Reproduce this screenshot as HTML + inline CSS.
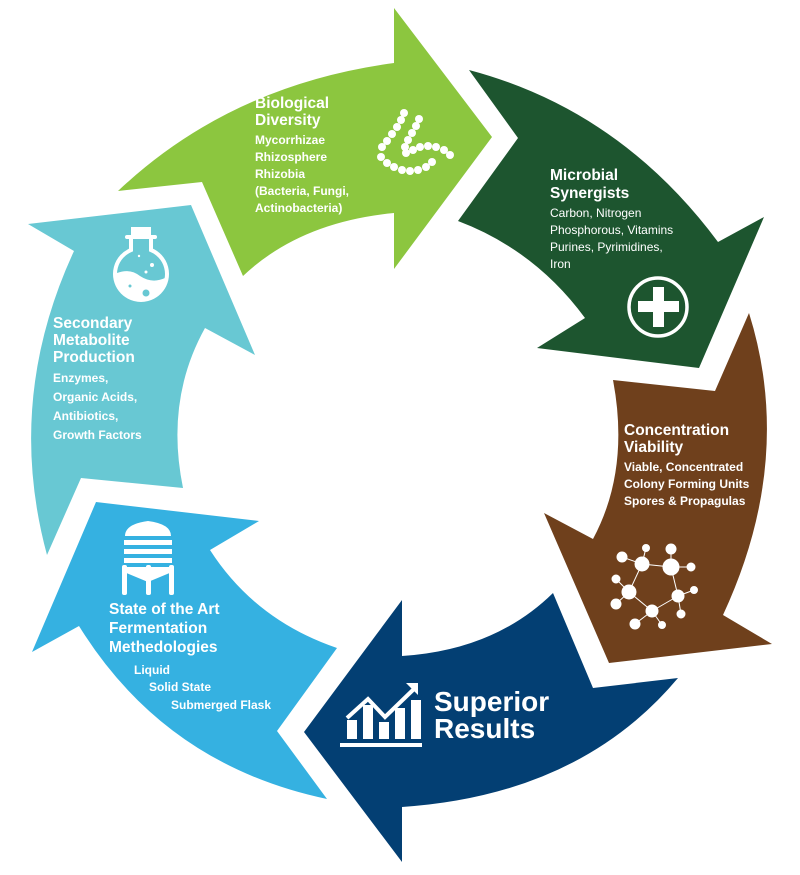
<!DOCTYPE html>
<html><head><meta charset="utf-8"><style>
html,body{margin:0;padding:0;background:#fff;width:800px;height:875px;overflow:hidden}
svg text{font-family:"Liberation Sans",Arial,sans-serif;fill:#fff;font-weight:bold}
.h{font-size:15.5px}
.b{font-size:12px}
</style></head><body>
<svg width="800" height="875" viewBox="0 0 800 875" xmlns="http://www.w3.org/2000/svg">
<path fill="#8cc63f" d="M118,191 Q230,85 394,63 L394,8 L492,137 L394,269 L394,213 Q300,222 243,276 L202,182 Z"/>
<path fill="#1d552f" d="M469,70 Q620,110 718,242 L764,217 L699,368 L537,348 L585,318 Q535,250 458,221 L518,138 Z"/>
<path fill="#6f401c" d="M749,313 Q795,460 723,615 L772,644 L609,663 L544,513 L593,539 Q630,470 613,380 L715,391 Z"/>
<path fill="#033f73" d="M678,678 Q580,795 402,807 L402,862 L304,732 L402,600 L402,656 Q495,650 553,593 L593,688 Z"/>
<path fill="#35b1e1" d="M327,799 Q165,765 79,626 L32,652 L96,502 L259,521 L210,550 Q255,620 337,648 L277,731 Z"/>
<path fill="#68c8d3" d="M47,555 Q5,400 74,251 L28,224 L191,205 L255,355 L205,328 Q165,400 183,488 L81,478 Z"/>

<text class="h" x="255" y="108">Biological</text>
<text class="h" x="255" y="125">Diversity</text>
<text class="b" x="255" y="144">Mycorrhizae</text>
<text class="b" x="255" y="161">Rhizosphere</text>
<text class="b" x="255" y="178">Rhizobia</text>
<text class="b" x="255" y="195">(Bacteria, Fungi,</text>
<text class="b" x="255" y="212">Actinobacteria)</text>
<g fill="#fff">
<circle cx="404" cy="113" r="4"/><circle cx="401" cy="120" r="4"/><circle cx="397" cy="127" r="4"/><circle cx="392" cy="134" r="4"/><circle cx="387" cy="141" r="4"/><circle cx="382" cy="147" r="4"/>
<circle cx="419" cy="119" r="4"/><circle cx="416" cy="126" r="4"/><circle cx="412" cy="133" r="4"/><circle cx="408" cy="140" r="4"/><circle cx="405" cy="147" r="4"/>
<circle cx="406" cy="153" r="4"/><circle cx="413" cy="150" r="4"/><circle cx="420" cy="147" r="4"/><circle cx="428" cy="146" r="4"/><circle cx="436" cy="147" r="4"/><circle cx="444" cy="150" r="4"/><circle cx="450" cy="155" r="4"/>
<circle cx="381" cy="157" r="4"/><circle cx="387" cy="163" r="4"/><circle cx="394" cy="167" r="4"/><circle cx="402" cy="170" r="4"/><circle cx="410" cy="171" r="4"/><circle cx="418" cy="170" r="4"/><circle cx="426" cy="167" r="4"/><circle cx="432" cy="162" r="4"/>
</g>

<text class="h" x="550" y="180">Microbial</text>
<text class="h" x="550" y="198">Synergists</text>
<text class="b" x="550" y="217" style="font-weight:normal">Carbon, Nitrogen</text>
<text class="b" x="550" y="234" style="font-weight:normal">Phosphorous, Vitamins</text>
<text class="b" x="550" y="251" style="font-weight:normal">Purines, Pyrimidines,</text>
<text class="b" x="550" y="268" style="font-weight:normal">Iron</text>
<circle cx="658" cy="307" r="29" fill="none" stroke="#fff" stroke-width="3.5"/>
<rect x="653" y="287" width="11" height="40" fill="#fff"/>
<rect x="638" y="301" width="41" height="11" fill="#fff"/>

<text class="h" x="624" y="435">Concentration</text>
<text class="h" x="624" y="452">Viability</text>
<text class="b" x="624" y="471">Viable, Concentrated</text>
<text class="b" x="624" y="488">Colony Forming Units</text>
<text class="b" x="624" y="505">Spores &amp; Propagulas</text>
<g stroke="#fff" stroke-width="1" fill="#fff">
<line x1="642" y1="564" x2="671" y2="567"/><line x1="671" y1="567" x2="678" y2="596"/><line x1="678" y1="596" x2="652" y2="611"/><line x1="652" y1="611" x2="629" y2="592"/><line x1="629" y1="592" x2="642" y2="564"/>
<line x1="642" y1="564" x2="622" y2="557"/><line x1="642" y1="564" x2="646" y2="548"/><line x1="671" y1="567" x2="671" y2="549"/><line x1="671" y1="567" x2="691" y2="567"/><line x1="678" y1="596" x2="694" y2="590"/><line x1="678" y1="596" x2="681" y2="614"/><line x1="652" y1="611" x2="635" y2="624"/><line x1="652" y1="611" x2="662" y2="625"/><line x1="629" y1="592" x2="616" y2="604"/><line x1="629" y1="592" x2="616" y2="579"/>
<circle cx="642" cy="564" r="7"/><circle cx="671" cy="567" r="8"/><circle cx="678" cy="596" r="6"/><circle cx="652" cy="611" r="6"/><circle cx="629" cy="592" r="7"/>
<circle cx="622" cy="557" r="5"/><circle cx="646" cy="548" r="3.5"/><circle cx="671" cy="549" r="5"/><circle cx="691" cy="567" r="4"/><circle cx="694" cy="590" r="3.5"/><circle cx="681" cy="614" r="4"/><circle cx="635" cy="624" r="5"/><circle cx="662" cy="625" r="3.5"/><circle cx="616" cy="604" r="5"/><circle cx="616" cy="579" r="4"/>
</g>

<text x="434" y="711" style="font-size:28px">Superior</text>
<text x="434" y="738" style="font-size:28px">Results</text>
<g fill="#fff">
<rect x="340" y="743" width="82" height="4"/>
<rect x="347" y="720" width="10" height="19"/><rect x="363" y="705" width="10" height="34"/><rect x="379" y="722" width="10" height="17"/><rect x="395" y="708" width="10" height="31"/><rect x="411" y="700" width="10" height="39"/>
<polyline points="347,718 368,699 385,717 415,688" fill="none" stroke="#fff" stroke-width="4"/>
<polygon points="406,683 418,683 418,695"/>
</g>

<text class="h" x="109" y="614">State of the Art</text>
<text class="h" x="109" y="633">Fermentation</text>
<text class="h" x="109" y="652">Methedologies</text>
<text class="b" x="134" y="674">Liquid</text>
<text class="b" x="149" y="691">Solid State</text>
<text class="b" x="171" y="709">Submerged Flask</text>
<g fill="#fff">
<path d="M125,536 Q125,524 148,521 Q171,524 171,536 Z"/>
<rect x="124" y="540" width="48" height="5"/><rect x="124" y="549" width="48" height="5"/><rect x="124" y="558" width="48" height="5"/>
<path d="M124,567 L172,567 L172,572 L148,582 L124,572 Z"/>
<rect x="122" y="565" width="5" height="30" rx="2"/><rect x="146" y="565" width="5" height="30" rx="2"/><rect x="169" y="565" width="5" height="30" rx="2"/>
</g>

<text class="h" x="53" y="328">Secondary</text>
<text class="h" x="53" y="345">Metabolite</text>
<text class="h" x="53" y="362">Production</text>
<text class="b" x="53" y="382">Enzymes,</text>
<text class="b" x="53" y="401">Organic Acids,</text>
<text class="b" x="53" y="420">Antibiotics,</text>
<text class="b" x="53" y="439">Growth Factors</text>
<g>
<rect x="131" y="227" width="20" height="9" fill="#fff"/>
<rect x="125" y="235" width="32" height="4" rx="2" fill="#fff"/>
<path d="M131,239 L131,250 A26,26 0 1 0 151,250 L151,239" fill="none" stroke="#fff" stroke-width="4"/>
<path d="M117,273 Q130,268 140,276 Q152,284 165,278 A24,24 0 0 1 117,273 Z" fill="#fff"/>
<circle cx="152" cy="265" r="2" fill="#fff"/><circle cx="146" cy="272" r="1.5" fill="#fff"/><circle cx="139" cy="256" r="1.2" fill="#fff"/>
<circle cx="146" cy="293" r="3.5" fill="#68c8d3"/><circle cx="130" cy="286" r="1.5" fill="#68c8d3"/>
</g>
</svg>
</body></html>
